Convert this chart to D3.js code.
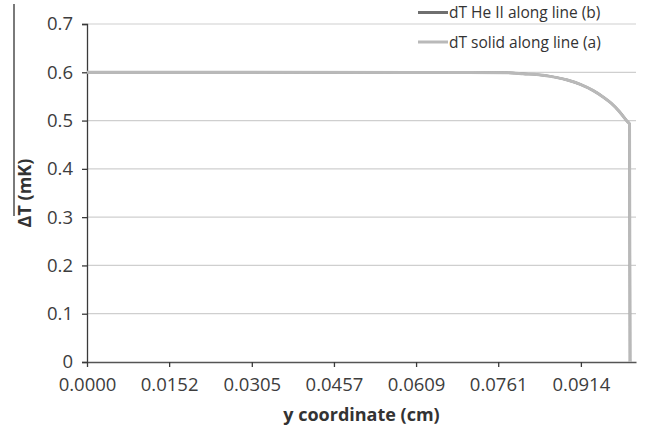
<!DOCTYPE html>
<html>
<head>
<meta charset="utf-8">
<script src="https://cdn.jsdelivr.net/npm/d3@7"></script>
<style>
  html, body { margin: 0; padding: 0; background: #fff; }
  svg { display: block; font-family: "Open Sans", "Noto Sans", sans-serif; }
</style>
</head>
<body>
<svg id="chart" width="648" height="435"></svg>
<script>
// y coordinate (cm) along each line
const yCoord = [0.0000, 0.0305, 0.0609, 0.0700, 0.0778, 0.0807, 0.0850, 0.0870, 0.0889,
                0.0913, 0.0937, 0.0955, 0.0970, 0.0985, 0.1000, 0.1004, 0.1005];
// temperature difference (mK)
const dtHeII  = [0.600, 0.600, 0.5997, 0.5995, 0.599, 0.597, 0.593, 0.589, 0.584,
                 0.575, 0.562, 0.549, 0.536, 0.519, 0.498, 0.493, 0.000];
const dtSolid = [0.600, 0.600, 0.5997, 0.5995, 0.599, 0.597, 0.593, 0.589, 0.584,
                 0.575, 0.562, 0.549, 0.536, 0.519, 0.498, 0.493, 0.000];

const seriesNames = ["dT He II along line (b)", "dT solid along line (a)"];
const seriesColors = ["#6f6f6f", "#b9b9b9"];

const xTickLabels = ["0.0000", "0.0152", "0.0305", "0.0457", "0.0609", "0.0761", "0.0914"];
const yTickValues = [0, 0.1, 0.2, 0.3, 0.4, 0.5, 0.6, 0.7];

const svg = d3.select("#chart");
const plot = { left: 87, right: 636, top: 24, bottom: 362 };

const x = d3.scaleLinear().domain([0, 0.1016]).range([plot.left, plot.right]);
const y = d3.scaleLinear().domain([0, 0.7]).range([plot.bottom, plot.top]);

// stray frame edge at far left
svg.append("line")
  .attr("x1", 14).attr("x2", 14).attr("y1", 4).attr("y2", 216)
  .attr("stroke", "#7a7a7a").attr("stroke-width", 2);

// horizontal gridlines
svg.append("g").selectAll("line")
  .data(yTickValues.filter(v => v > 0))
  .join("line")
  .attr("x1", plot.left).attr("x2", plot.right)
  .attr("y1", d => y(d)).attr("y2", d => y(d))
  .attr("stroke", "#cfcfcf").attr("stroke-width", 1.2);

// y axis
const yAxis = d3.axisLeft(y).tickValues(yTickValues)
  .tickFormat(d => d === 0 ? "0" : d3.format(".1f")(d))
  .tickSize(5).tickPadding(9);
const gy = svg.append("g").attr("transform", `translate(${plot.left},0)`).call(yAxis);
gy.select(".domain").attr("stroke", "#3a3a3a").attr("stroke-width", 1.3);
gy.selectAll(".tick line").attr("stroke", "#3a3a3a").attr("stroke-width", 1.3);
gy.selectAll(".tick text").attr("fill", "#3d3d3d")
  .style("font-size", "18.5px").style("font-family", "'Open Sans', sans-serif");

// x axis
const xAxis = d3.axisBottom(x).tickValues(xTickLabels.map(Number))
  .tickFormat((d, i) => xTickLabels[i])
  .tickSizeInner(5).tickSizeOuter(0).tickPadding(11);
const gx = svg.append("g").attr("transform", `translate(0,${plot.bottom})`).call(xAxis);
gx.select(".domain").attr("stroke", "#555").attr("stroke-width", 1.3);
gx.selectAll(".tick line").attr("stroke", "#3a3a3a").attr("stroke-width", 1.3);
gx.selectAll(".tick text").attr("fill", "#3d3d3d")
  .style("font-size", "18.5px").style("font-family", "'Open Sans', sans-serif");

// data lines
const line = d3.line().x(d => x(d[0])).y(d => y(d[1])).curve(d3.curveMonotoneX);
const seriesData = [dtHeII, dtSolid];
seriesData.forEach((vals, i) => {
  svg.append("path")
    .datum(yCoord.map((c, j) => [c, vals[j]]))
    .attr("d", line)
    .attr("fill", "none")
    .attr("stroke", seriesColors[i])
    .attr("stroke-width", i === 0 ? 2.4 : 3)
    .attr("stroke-linejoin", "round");
});

// axis titles
svg.append("text")
  .attr("x", (plot.left + plot.right) / 2).attr("y", 421)
  .attr("text-anchor", "middle")
  .attr("fill", "#333").style("font-size", "18px").style("font-weight", "bold")
  .text("y coordinate (cm)");

svg.append("text")
  .attr("transform", `translate(31,${(plot.top + plot.bottom) / 2}) rotate(-90)`)
  .attr("text-anchor", "middle")
  .attr("fill", "#333").style("font-size", "18px").style("font-weight", "bold")
  .text("ΔT (mK)");

// legend
const legend = svg.append("g");
seriesNames.forEach((name, i) => {
  const ly = 12.5 + i * 29.5;
  legend.append("line")
    .attr("x1", 418).attr("x2", 448).attr("y1", ly).attr("y2", ly)
    .attr("stroke", seriesColors[i]).attr("stroke-width", 3);
  legend.append("text")
    .attr("x", 449).attr("y", ly + 5.5)
    .attr("fill", "#333").style("font-size", "15.5px")
    .text(name);
});
</script>
</body>
</html>
